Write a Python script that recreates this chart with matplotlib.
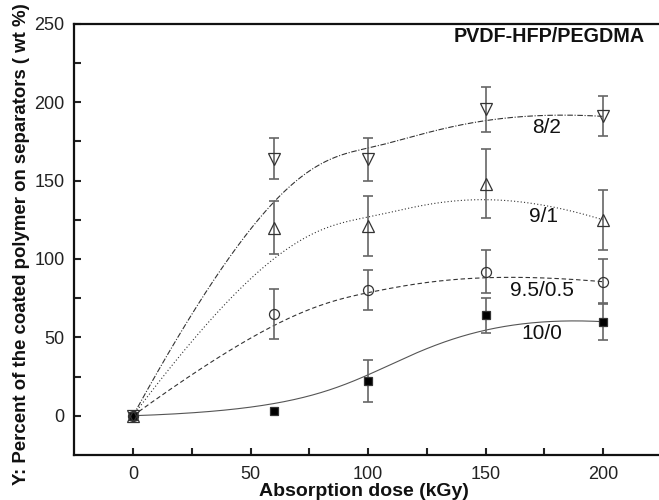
import numpy as np
import matplotlib
matplotlib.use("Agg")
import matplotlib.pyplot as plt

plt.rcParams['font.family'] = ['Liberation Sans', 'DejaVu Sans']

dose = [0, 60, 100, 150, 200]

series_names = ["10/0", "9.5/0.5", "9/1", "8/2"]
y_10_0 = [0, 3, 22, 64, 60]
e_10_0 = [0, 0, 13.5, 11, 12]
y_95_05 = [0, 65, 80, 92, 85.5]
e_95_05 = [0, 16, 12.7, 14, 14.5]
y_9_1 = [0, 120, 121, 148, 125]
e_9_1 = [0, 17, 19, 22, 19]
y_8_2 = [0, 164, 163.5, 195.5, 191]
e_8_2 = [0, 13, 14, 14.5, 12.8]

xlabel = "Absorption dose (kGy)"
ylabel = "Y: Percent of the coated polymer on separators ( wt %)"
title = "PVDF-HFP/PEGDMA"


def bspline(px, py, n=300):
    """Clamped cubic B-spline using the data points as control points."""
    px = np.asarray(px, float)
    py = np.asarray(py, float)
    k = 3
    m = len(px)
    inner = np.linspace(0, 1, m - k + 1)[1:-1]
    knots = np.concatenate([[0] * (k + 1), inner, [1] * (k + 1)])
    t = np.linspace(0, 1, n)
    t[-1] = 1 - 1e-12

    def basis(i, p, tt):
        if p == 0:
            return np.where((knots[i] <= tt) & (tt < knots[i + 1]), 1.0, 0.0)
        out = np.zeros_like(tt)
        d1 = knots[i + p] - knots[i]
        d2 = knots[i + p + 1] - knots[i + 1]
        if d1 > 0:
            out += (tt - knots[i]) / d1 * basis(i, p - 1, tt)
        if d2 > 0:
            out += (knots[i + p + 1] - tt) / d2 * basis(i + 1, p - 1, tt)
        return out

    B = np.array([basis(i, k, t) for i in range(m)])
    return B.T @ px, B.T @ py


fig = plt.figure(figsize=(6.59, 5.0), dpi=100)
ax = fig.add_axes([74.25 / 659, 0.0902, 587.5 / 659, 0.862])

styles = [
    dict(y=y_10_0, e=e_10_0, ls='-', marker='s', mfc='black', ms=5.2, color='#555555'),
    dict(y=y_95_05, e=e_95_05, ls=(0, (4, 2.5)), marker='o', mfc='none', ms=7.2, color='#333333'),
    dict(y=y_9_1, e=e_9_1, ls=(0, (1, 2)), marker='^', mfc='none', ms=8, color='#333333'),
    dict(y=y_8_2, e=e_8_2, ls=(0, (5, 1.5, 1, 1.5)), marker='v', mfc='none', ms=8, color='#333333'),
]

for s in styles:
    cx, cy = bspline(dose, s['y'])
    ax.plot(cx, cy, ls=s['ls'], color=s['color'], lw=0.8, zorder=2)

for s in styles:
    x = np.array(dose, float)
    y = np.array(s['y'], float)
    e = np.array(s['e'], float)
    mask = e > 0
    ax.errorbar(x[mask], y[mask], yerr=e[mask], fmt='none', ecolor='#666666',
                elinewidth=1.2, capsize=3.6, capthick=1.2, zorder=3)
    ax.plot(x, y, ls='none', marker=s['marker'], mfc=s['mfc'], mec='#333333',
            mew=0.9, ms=s['ms'], zorder=4)

ax.set_xlim(-25, 225)
ax.set_ylim(-25, 250)
ax.set_xticks([0, 50, 100, 150, 200])
ax.set_xticks([25, 75, 125, 175], minor=True)
ax.set_yticks([0, 50, 100, 150, 200, 250])
ax.set_yticks([25, 75, 125, 175, 225], minor=True)
ax.tick_params(which='both', direction='in', length=5, width=1.5, labelsize=13,
               colors='#222222', top=False, right=False)
ax.tick_params(axis='x', pad=8)
ax.tick_params(axis='y', pad=7)
for sp in ax.spines.values():
    sp.set_linewidth(1.6)
    sp.set_color('#111111')

lab_kw = dict(fontsize=15, color='#111111', ha='center', va='center')
ax.text(176, 184, "8/2", **lab_kw)
ax.text(174.5, 127, "9/1", **lab_kw)
ax.text(174, 80, "9.5/0.5", **lab_kw)
ax.text(174, 52.5, "10/0", **lab_kw)

fig.text(645 / 659, 1 - 37 / 500, title, ha='right', va='center', fontsize=14.2,
         fontweight='bold', color='#111111')
fig.text(364 / 659, 1 - 491 / 500, xlabel, ha='center', va='center', fontsize=14,
         fontweight='bold', color='#111111')
fig.text(22 / 659, 1 - 244 / 500, ylabel, ha='center', va='center', fontsize=13.4,
         fontweight='bold', color='#111111', rotation=90)

fig.savefig("out.png", dpi=100)
